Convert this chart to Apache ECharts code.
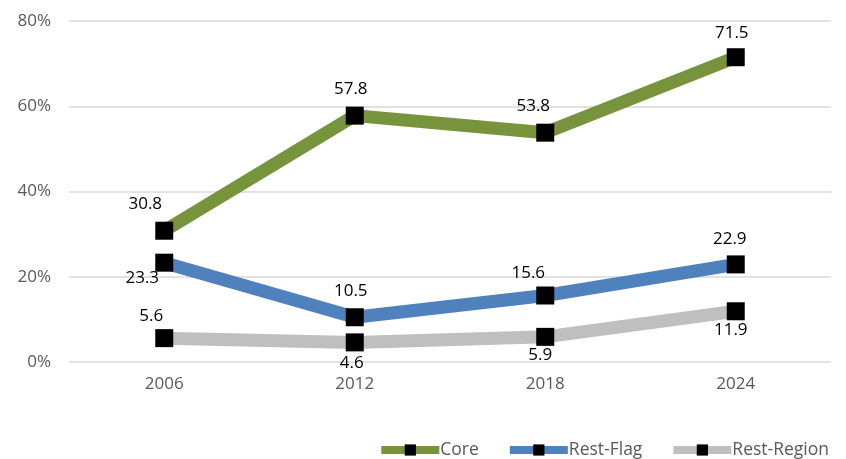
<!DOCTYPE html>
<html><head><meta charset="utf-8">
<script src="https://cdn.jsdelivr.net/npm/echarts@6/dist/echarts.min.js"></script>
<style>html,body{margin:0;padding:0;background:#fff}#c{width:846px;height:459px}</style>
</head><body><div id="c"></div>
<script>
const categories = ['2006','2012','2018','2024'];
const coreValues = [30.8, 57.8, 53.8, 71.5];
const restFlagValues = [23.3, 10.5, 15.6, 22.9];
const restRegionValues = [5.6, 4.6, 5.9, 11.9];
const yTicks = [0, 20, 40, 60, 80];

// label placement (style only): [position, dx, distance]
const coreLabelStyle = [['top',-19,9],['top',-4,9],['top',-12,9],['top',-4,7]];
const restFlagLabelStyle = [['bottom',-22,-2],['top',-4,9],['top',-17,5],['top',-6,8]];
const restRegionLabelStyle = [['top',-13,4],['bottom',-3,3],['bottom',-5,1],['bottom',-5,1]];

const font = '"Open Sans", "Noto Sans", sans-serif';
function mk(name, vals, color, ls) {
  return {
    name, type: 'line',
    data: vals.map((v,i)=>({value:v, label:{position:ls[i][0], offset:[ls[i][1],0], distance:ls[i][2]}})),
    symbol: 'rect', symbolSize: 18,
    itemStyle: {color: '#000'},
    lineStyle: {color: color, width: 13},
    label: {show: true, color: '#000', fontSize: 17, fontFamily: font,
      formatter: p => p.value.toFixed(1)},
    z: 3
  };
}
const chart = echarts.init(document.getElementById('c'));
chart.setOption({
  animation: false,
  grid: {left: 69, right: 15, top: 21, bottom: 97},
  xAxis: {type:'category', data: categories, boundaryGap: true,
    axisLine:{show:false}, axisTick:{show:false},
    axisLabel:{color:'#595959', fontSize:17, fontFamily:font, margin:14}},
  yAxis: {type:'value', min:0, max:80, interval:20,
    axisLabel:{color:'#595959', fontSize:17, fontFamily:font, margin:18, formatter: v=>v+'%'},
    splitLine:{lineStyle:{color:'#d9d9d9', width:1.5}}},
  legend: {top: 436, right: 12, itemWidth: 58, itemHeight: 14, itemGap: 27,
    lineStyle: {width: 8},
    textStyle:{color:'#595959', fontSize:17.5, fontFamily:font, padding:[0,0,0,-4]},
    data: ['Core','Rest-Flag','Rest-Region']},
  series: [
    mk('Core', coreValues, '#77933c', coreLabelStyle),
    mk('Rest-Flag', restFlagValues, '#4f81bd', restFlagLabelStyle),
    mk('Rest-Region', restRegionValues, '#bfbfbf', restRegionLabelStyle)
  ]
});
</script></body></html>
